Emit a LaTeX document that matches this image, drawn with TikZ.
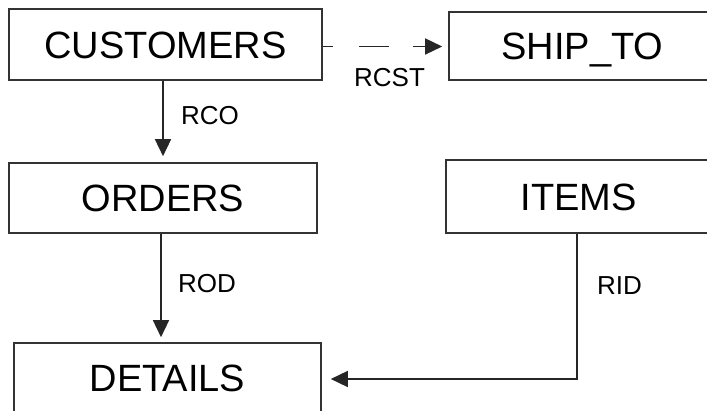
\documentclass[tikz,border=0pt]{standalone}
\usepackage{fontspec}
\setmainfont{Liberation Sans}
\usetikzlibrary{arrows.meta}

\tikzset{
  entity/.style={draw=black!80, line width=1.6pt, rectangle, inner sep=0pt,
    font=\fontsize{38}{40}\selectfont, text height=27.5pt, text depth=0pt},
  lab/.style={inner sep=0pt, font=\fontsize{26}{28}\selectfont,
    text height=18.6pt, text depth=0pt},
  rel/.style={draw=black!85, line width=1.5pt,
    -{Triangle[length=17pt,width=16pt]}},
}

\begin{document}
\begin{tikzpicture}[x=1pt, y=-1pt]
  \useasboundingbox (0,0) rectangle (707,411);
  \clip (0,0) rectangle (707,411);

  % entity boxes
  \node[entity, minimum width=313pt, minimum height=71pt] (cust)  at (165.5,44.5) {CUSTOMERS};
  \node[entity, minimum width=267pt, minimum height=68pt] (ship)  at (582.5,46)   {SHIP\_TO};
  \node[entity, minimum width=308pt, minimum height=70pt] (ord)   at (163,198)    {ORDERS};
  \node[entity, minimum width=265pt, minimum height=73pt] (items) at (578.5,196.5) {ITEMS};
  \node[entity, minimum width=307pt, minimum height=70pt] (det)   at (167.5,378)  {DETAILS};

  % guide points for the connectors
  \coordinate (xrco)  at (163,0);
  \coordinate (xrod)  at (161,0);
  \coordinate (yrcst) at (0,46.5);
  \coordinate (bend)  at (577,379);

  % relationships
  \draw[rel, shorten >=6pt] (cust.south -| xrco) -- (ord.north -| xrco);
  \draw[rel, shorten >=5pt] (ord.south -| xrod) -- (det.north -| xrod);
  \draw[rel, shorten >=6pt, dash pattern=on 10pt off 26pt on 30pt off 24pt on 60pt]
    (cust.east |- yrcst) -- (ship.west |- yrcst);
  \draw[rel, shorten >=9pt] (items.south -| bend) -- (bend) -- (det.east |- bend);

  % relationship names
  \node[lab] (lrcst) at (389.5,77)  {RCST};
  \node[lab] (lrco)  at (210,115)   {RCO};
  \node[lab] (lrod)  at (207,283)   {ROD};
  \node[lab] (lrid)  at (619.5,285.5) {RID};
\end{tikzpicture}
\end{document}
